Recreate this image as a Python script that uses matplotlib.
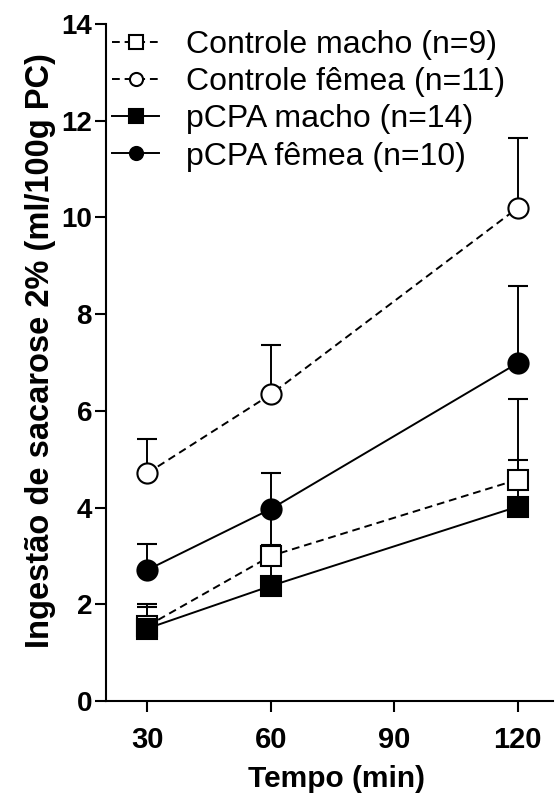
import matplotlib
matplotlib.use("Agg")
import matplotlib.pyplot as plt
import numpy as np

plt.rcParams['font.family'] = ['Liberation Sans', 'DejaVu Sans']

# tempo (min)
tempo = [30, 60, 120]

# médias de ingestão (ml/100g PC)
ctrl_macho = [1.55, 3.00, 4.58]
ctrl_femea = [4.71, 6.34, 10.20]
pcpa_macho = [1.50, 2.38, 4.02]
pcpa_femea = [2.71, 3.97, 6.99]

# erro padrão (só para cima)
ctrl_macho_err = [0.46, 0.90, 1.67]
ctrl_femea_err = [0.71, 1.02, 1.45]
pcpa_macho_err = [0.44, 0.85, 0.97]
pcpa_femea_err = [0.54, 0.74, 1.60]

labels = ["Controle macho (n=9)", "Controle fêmea (n=11)",
          "pCPA macho (n=14)", "pCPA fêmea (n=10)"]

fig = plt.figure(figsize=(5.55, 7.96), dpi=100)
ax = fig.add_axes([0.191, 0.1193, 0.805, 0.8505])

series = [
    (ctrl_macho, ctrl_macho_err, 's', 'white', (0, (4, 2.5))),
    (ctrl_femea, ctrl_femea_err, 'o', 'white', (0, (4, 2.5))),
    (pcpa_macho, pcpa_macho_err, 's', 'black', '-'),
    (pcpa_femea, pcpa_femea_err, 'o', 'black', '-'),
]

handles = []
for (vals, err, mk, fc, ls), lab in zip(series, labels):
    yerr = [np.zeros(len(err)), err]
    h = ax.errorbar(tempo, vals, yerr=yerr, color='black', marker=mk,
                    markersize=14.5, markerfacecolor=fc, markeredgecolor='black',
                    markeredgewidth=1.5, linewidth=1.4, linestyle=ls,
                    capsize=7.5, capthick=1.4, elinewidth=1.4, label=lab)
    h[-1][0].set_linestyle('-')
    handles.append(h)

ax.set_xlim(20, 128.5)
ax.set_ylim(0, 14)
ax.set_xticks([30, 60, 90, 120])
ax.set_yticks(np.arange(0, 15, 2))

for s in ['top', 'right']:
    ax.spines[s].set_visible(False)
for s in ['left', 'bottom']:
    ax.spines[s].set_linewidth(1.5)

ax.tick_params(axis='both', width=1.5, length=8)
ax.tick_params(axis='x', labelsize=21, pad=10)
ax.tick_params(axis='y', labelsize=20, pad=2)
for t in ax.get_xticklabels() + ax.get_yticklabels():
    t.set_fontweight('bold')

ax.set_xlabel("Tempo (min)", fontsize=21.5, fontweight='bold', labelpad=8)
ax.set_ylabel("Ingestão de sacarose 2% (ml/100g PC)", fontsize=23.5,
              fontweight='bold', labelpad=4)
ax.xaxis.label.set_x(0.515)
ax.yaxis.label.set_y(0.518)

leg = ax.legend(handles=[h[0] for h in handles], labels=labels,
                loc='upper left', bbox_to_anchor=(0.0, 1.0), frameon=False,
                fontsize=23, markerscale=0.65, handlelength=1.45,
                handletextpad=0.85, labelspacing=0.22, borderpad=0.0,
                borderaxespad=0.2)

fig.savefig("out.png", dpi=100)
